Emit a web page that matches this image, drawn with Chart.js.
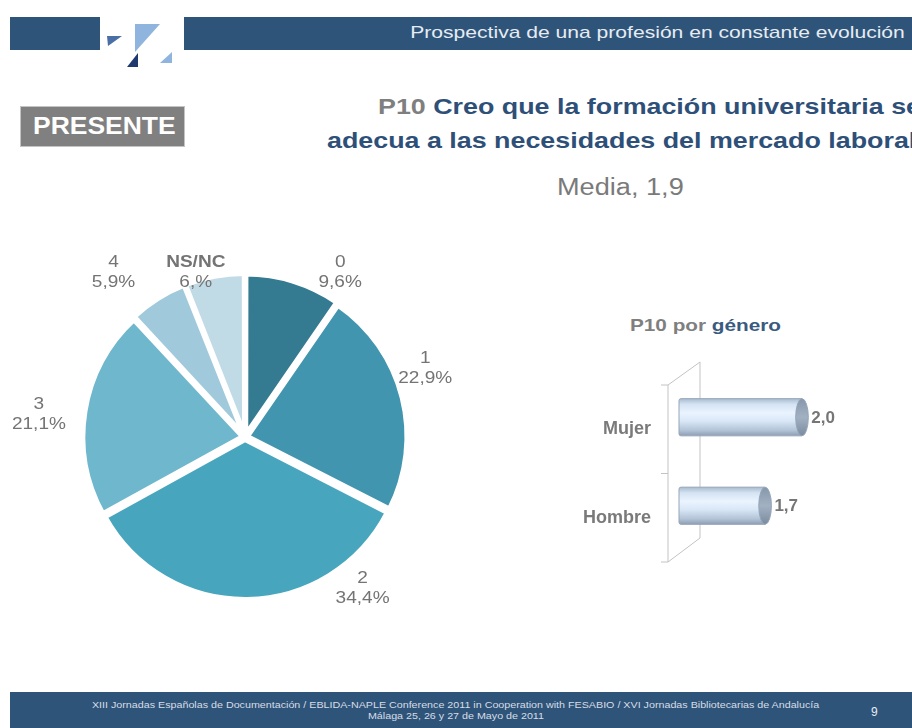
<!DOCTYPE html>
<html>
<head>
<meta charset="utf-8">
<script src="https://cdn.jsdelivr.net/npm/chart.js@4.4.0/dist/chart.umd.min.js"></script>
<style>
  html, body { margin: 0; padding: 0; width: 912px; height: 728px; overflow: hidden; background: #fff; font-family: "Liberation Sans", Arial, sans-serif; }
  .abs { position: absolute; }
  .bar { background: #2f5479; }
  .wide { display: inline-block; transform-origin: left center; white-space: nowrap; }
  #topText { right: 7px; top: 23px; color: #e6ecf3; font-size: 17px; }
  #presente { left: 20px; top: 106px; width: 163px; height: 39px; background: #808080; border: 1px solid #c4c4c4; color: #fff; font-weight: bold; font-size: 23px; line-height: 39px; }
  .title { font-weight: bold; font-size: 22px; color: #2e5078; }
  .grey { color: #7f7f7f; }
  #media { left: 557px; top: 174px; font-size: 23px; color: #7a7a7a; }
  #sub { left: 630px; top: 316px; font-size: 17px; font-weight: bold; color: #7f7f7f; }
  .foot { color: #d6dde6; font-size: 9px; width: 912px; text-align: center; left: 0; white-space: nowrap; }
  .foot span { display: inline-block; transform: scaleX(1.19); transform-origin: center; }
</style>
</head>
<body>
<div class="abs bar" style="left:10px;top:17px;width:90px;height:33px"></div>
<div class="abs bar" style="left:184px;top:17px;width:728px;height:33px"></div>
<svg class="abs" style="left:100px;top:14px" width="84" height="62">
  <polygon points="7,22 22,22 8,32" fill="#4a6fa5"/>
  <polygon points="35,10 60,10 35,38" fill="#8fb4de"/>
  <polygon points="27,53 38,39 38,53" fill="#1f3a6e"/>
  <polygon points="60,49 72,38 72,49" fill="#8fb4de"/>
</svg>
<div id="topText" class="abs"><span class="wide" style="transform-origin:right center;transform:scaleX(1.24)">Prospectiva de una profesión en constante evolución</span></div>

<div id="presente" class="abs"><span class="wide" style="margin-left:12px;transform:scaleX(1.15)">PRESENTE</span></div>

<div class="abs title" style="left:378px;top:94px"><span class="wide" style="transform:scaleX(1.22)"><span class="grey">P10</span> Creo que la formación universitaria se</span></div>
<div class="abs title" style="left:327px;top:128px"><span class="wide" style="transform:scaleX(1.22)">adecua a las necesidades del mercado laboral</span></div>
<div id="media" class="abs"><span class="wide" style="transform:scaleX(1.18)">Media, 1,9</span></div>

<div id="sub" class="abs"><span class="wide" style="transform:scaleX(1.22)">P10 por <span style="color:#3a5a80">género</span></span></div>

<canvas id="pie" class="abs" style="left:0;top:240px" width="490" height="390"></canvas>
<canvas id="genero" class="abs" style="left:560px;top:350px" width="352" height="230"></canvas>

<div class="abs bar" style="left:10px;top:692px;width:902px;height:36px"></div>
<div class="abs foot" style="top:700px"><span>XIII Jornadas Españolas de Documentación / EBLIDA-NAPLE Conference 2011 in Cooperation with FESABIO / XVI Jornadas Bibliotecarias de Andalucía</span></div>
<div class="abs foot" style="top:711px"><span>Málaga 25, 26 y 27 de Mayo de 2011</span></div>
<div class="abs" style="left:871px;top:705px;color:#e6ecf3;font-size:12px">9</div>

<script>
// P10 answers (pie)
const pieLabels = ['0', '1', '2', '3', '4', 'NS/NC'];
const pieValues = [9.6, 22.9, 34.4, 21.1, 5.9, 6.0];
const pieText = ['9,6%', '22,9%', '34,4%', '21,1%', '5,9%', '6,%'];
const pieColors = ['#347b92', '#4195ae', '#47a6be', '#6fb7cd', '#a0cadb', '#c1dbe6'];
// label placement tweaks (degrees off the slice middle, distance as share of radius)
const labelShift = [12.8, -6.8, -37, -2.8, -6.4, -5.8];
const labelDist = [1.19, 1.21, 1.2, 1.3, 1.32, 1.08];

// P10 by gender (bars)
const generoLabels = ['Mujer', 'Hombre'];
const generoValues = [2.0, 1.7];
const generoText = ['2,0', '1,7'];

const pieLabelPlugin = {
    id: 'pieLabels',
    afterDatasetsDraw(chart) {
        const ctx = chart.ctx;
        const meta = chart.getDatasetMeta(0);
        meta.data.forEach(function(arc, i) {
            const p = arc.getProps(['x', 'y', 'startAngle', 'endAngle', 'outerRadius'], true);
            const a = (p.startAngle + p.endAngle) / 2 + labelShift[i] * Math.PI / 180;
            const r = p.outerRadius * labelDist[i];
            ctx.save();
            ctx.translate(p.x + Math.cos(a) * r, p.y + Math.sin(a) * r);
            ctx.scale(1.12, 1);
            ctx.fillStyle = '#747474';
            ctx.textAlign = 'center';
            ctx.textBaseline = 'middle';
            ctx.font = (i === 5 ? 'bold ' : '') + '17px "Liberation Sans", Arial';
            ctx.fillText(pieLabels[i], 0, -10);
            ctx.font = '17px "Liberation Sans", Arial';
            ctx.fillText(pieText[i], 0, 10);
            ctx.restore();
        });
    }
};

new Chart(document.getElementById('pie').getContext('2d'), {
    type: 'pie',
    data: {
        labels: pieLabels,
        datasets: [{
            data: pieValues,
            backgroundColor: pieColors,
            borderColor: '#ffffff',
            borderWidth: 5,
            offset: 10
        }]
    },
    options: {
        responsive: false,
        animation: false,
        layout: { padding: { left: 78, right: 78, top: 30, bottom: 26 } },
        plugins: { legend: { display: false }, tooltip: { enabled: false } }
    },
    plugins: [pieLabelPlugin]
});

// cylinder bars + 3D frame
const cylinderPlugin = {
    id: 'cylinders',
    beforeDatasetsDraw(chart) {
        const ctx = chart.ctx;
        const xs = chart.scales.x, ys = chart.scales.y;
        const fx = xs.left - 11, bx = xs.left + 21;
        const ft = ys.top + 12, fb = ys.bottom + 12;
        const bt = ys.top - 11, bb = ys.bottom - 12;
        ctx.save();
        ctx.strokeStyle = '#c3c3c3';
        ctx.lineWidth = 1;
        ctx.beginPath();
        ctx.moveTo(fx, ft); ctx.lineTo(fx, fb);
        ctx.moveTo(bx, bt); ctx.lineTo(bx, bb);
        ctx.moveTo(fx, ft); ctx.lineTo(bx, bt);
        ctx.moveTo(fx, fb); ctx.lineTo(bx, bb);
        const step = (fb - ft) / generoLabels.length;
        for (let k = 0; k <= generoLabels.length; k++) {
            ctx.moveTo(fx - 7, ft + k * step); ctx.lineTo(fx, ft + k * step);
        }
        ctx.stroke();
        ctx.restore();
    },
    afterDatasetsDraw(chart) {
        const ctx = chart.ctx;
        const meta = chart.getDatasetMeta(0);
        ctx.save();
        meta.data.forEach(function(el, i) {
            const p = el.getProps(['x', 'y', 'base', 'height'], true);
            const base = Math.max(p.base, chart.chartArea.left);
            const top = p.y - p.height / 2, bot = p.y + p.height / 2;
            const rx = p.height * 0.17, ry = p.height / 2;
            const g = ctx.createLinearGradient(0, top, 0, bot);
            g.addColorStop(0, '#a9bbd0');
            g.addColorStop(0.15, '#d4e2f2');
            g.addColorStop(0.38, '#eaf4ff');
            g.addColorStop(0.6, '#d9e7f6');
            g.addColorStop(0.85, '#b3c4d8');
            g.addColorStop(1, '#8e9eb2');
            ctx.fillStyle = g;
            ctx.strokeStyle = '#95a5b8';
            ctx.lineWidth = 1;
            ctx.beginPath();
            ctx.moveTo(base + 2, top);
            ctx.lineTo(p.x, top);
            ctx.lineTo(p.x, bot);
            ctx.lineTo(base + 2, bot);
            ctx.quadraticCurveTo(base, bot, base, bot - 2);
            ctx.lineTo(base, top + 2);
            ctx.quadraticCurveTo(base, top, base + 2, top);
            ctx.fill();
            ctx.stroke();
            const cg = ctx.createLinearGradient(0, top, 0, bot);
            cg.addColorStop(0, '#8797ab');
            cg.addColorStop(0.5, '#a2b1c2');
            cg.addColorStop(1, '#7b8b9f');
            ctx.fillStyle = cg;
            ctx.beginPath();
            ctx.ellipse(p.x, p.y, rx, ry, 0, 0, Math.PI * 2);
            ctx.fill();
            ctx.stroke();
            ctx.fillStyle = '#767676';
            ctx.font = 'bold 17px "Liberation Sans", Arial';
            ctx.textBaseline = 'middle';
            ctx.fillText(generoText[i], p.x + rx + 3, p.y + 1);
        });
        ctx.restore();
    }
};

new Chart(document.getElementById('genero').getContext('2d'), {
    type: 'bar',
    data: {
        labels: generoLabels,
        datasets: [{
            data: generoValues,
            backgroundColor: 'rgba(0,0,0,0)',
            borderWidth: 0,
            categoryPercentage: 1,
            barPercentage: 0.42
        }]
    },
    options: {
        indexAxis: 'y',
        responsive: false,
        animation: false,
        layout: { padding: { left: 0, right: 48.5, top: 23, bottom: 30 } },
        scales: {
            x: { display: false, min: 1, max: 2.5 },
            y: {
                grid: { display: false },
                border: { display: false },
                afterFit: function(scale) {
                    scale.width = 119;
                    scale.paddingTop = 0;
                    scale.paddingBottom = 0;
                },
                ticks: {
                    color: '#7a7a7a',
                    font: { family: '"Liberation Sans", Arial', size: 18, weight: 'bold' },
                    padding: 20,
                    labelOffset: 12
                }
            }
        },
        plugins: { legend: { display: false }, tooltip: { enabled: false } }
    },
    plugins: [cylinderPlugin]
});
</script>
</body>
</html>
